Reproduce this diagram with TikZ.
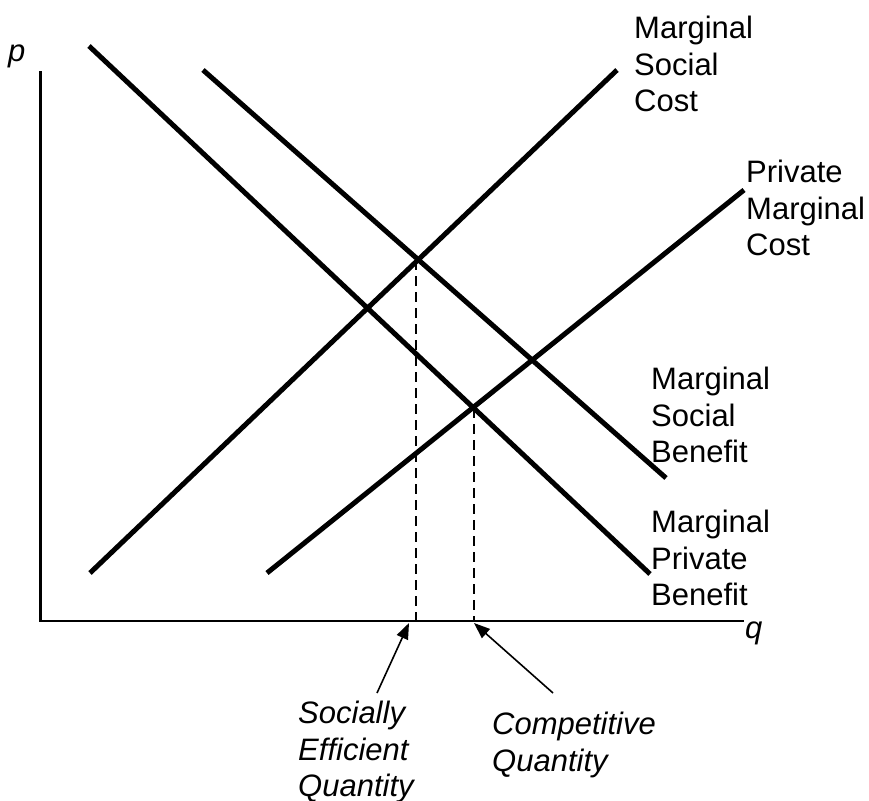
\documentclass[tikz,border=0pt]{standalone}
\usepackage{fontspec}
\setmainfont{Liberation Sans}
\usetikzlibrary{arrows.meta}
\begin{document}
\begin{tikzpicture}[x=1pt,y=-1pt,
  schedule/.style={line width=5pt},
  axisline/.style={line width=2.2pt},
  guide/.style={line width=2.4pt, dash pattern=on 10pt off 6pt},
  pointer/.style={line width=1.6pt, -{Triangle[length=16pt,width=12pt]}},
  lbl/.style={anchor=north west, inner sep=0pt, align=left, font=\fontsize{31}{36.5}\selectfont},
  ilbl/.style={anchor=north west, inner sep=0pt, align=left, font=\fontsize{31}{36.5}\selectfont\itshape},
  axlbl/.style={anchor=base west, inner sep=0pt, font=\fontsize{31}{36.5}\selectfont\itshape}]
\useasboundingbox (0,0) rectangle (869,800);
% axes
\coordinate (ytop) at (40.5,71);
\coordinate (O) at (40.5,621);
\coordinate (xend) at (744,621);
\draw[axisline] (ytop) -- (O) -- (xend);
\node[axlbl] (plab) at (8,61) {p};
\node[axlbl] (qlab) at (745,638) {q};
% schedules
\coordinate (mpb1) at (89,46);  \coordinate (mpb2) at (650,574);
\coordinate (msb1) at (203,70); \coordinate (msb2) at (666,478);
\coordinate (msc1) at (90,573); \coordinate (msc2) at (617,70);
\coordinate (pmc1) at (267,573); \coordinate (pmc2) at (744,190);
\draw[schedule] (mpb1) -- (mpb2);
\draw[schedule] (msb1) -- (msb2);
\draw[schedule] (msc1) -- (msc2);
\draw[schedule] (pmc1) -- (pmc2);
% guides
\coordinate (eff) at (416,260);   \coordinate (effq) at (416,621);
\coordinate (comp) at (474,408);  \coordinate (compq) at (474,621);
\draw[guide] (eff) -- (effq);
\draw[guide] (comp) -- (compq);
% labels
\node[lbl] (msclab) at (634,16) {Marginal\\Social\\Cost};
\node[lbl] (pmclab) at (746,160) {Private\\Marginal\\Cost};
\node[lbl] (msblab) at (651,367) {Marginal\\Social\\Benefit};
\node[lbl] (mpblab) at (651,510) {Marginal\\Private\\Benefit};
\node[ilbl] (seqlab) at (298,701) {Socially\\Efficient\\Quantity};
\node[ilbl] (cqlab) at (492,712) {Competitive\\Quantity};
% pointers
\coordinate (seqtail) at (377,693); \coordinate (seqtip) at (409,623);
\coordinate (cqtail) at (553,693);  \coordinate (cqtip) at (474,623);
\draw[pointer] (seqtail) -- (seqtip);
\draw[pointer] (cqtail) -- (cqtip);
\end{tikzpicture}
\end{document}
